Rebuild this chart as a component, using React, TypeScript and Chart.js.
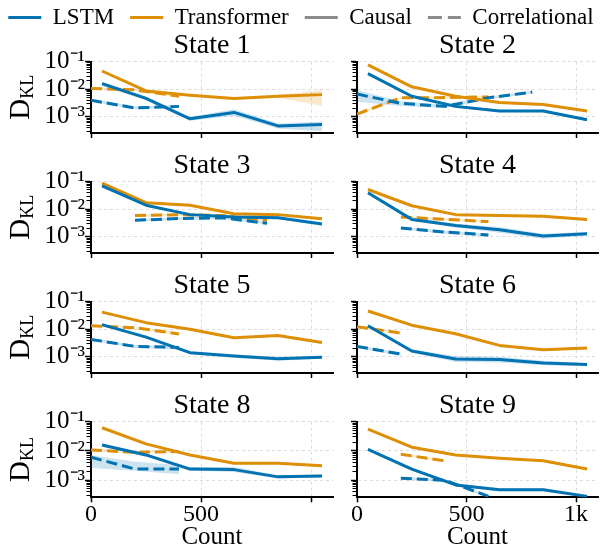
import React, { useEffect, useRef } from 'react';
import { Chart, registerables } from 'chart.js';

Chart.register(...registerables);

const FONT = "'Liberation Serif', 'Times New Roman', serif";
const BLUE = '#0173B2';
const ORANGE = '#DE8F05';
const BLUE_BAND = 'rgba(1,115,178,0.2)';
const ORANGE_BAND = 'rgba(222,143,5,0.2)';

const stateTitles = ['State 1', 'State 2', 'State 3', 'State 4', 'State 5', 'State 6', 'State 8', 'State 9'];
const counts = [50, 250, 450, 650, 850, 1050];

const lstmCausal = [
  [0.016, 0.0047, 0.00085, 0.00145, 0.00047, 0.00053],
  [0.037, 0.0056, 0.0024, 0.00164, 0.00164, 0.00079],
  [0.071, 0.0141, 0.0064, 0.0053, 0.0049, 0.0029],
  [0.04, 0.0043, 0.0026, 0.0018, 0.00107, 0.0013],
  [0.0148, 0.0052, 0.00142, 0.00107, 0.00085, 0.00096],
  [0.0134, 0.00164, 0.00083, 0.0008, 0.0006, 0.00053],
  [0.016, 0.0073, 0.0024, 0.0023, 0.0013, 0.00139],
  [0.0114, 0.0024, 0.00069, 0.00047, 0.00047, 0.00028],
];
const lstmCausalLo = [
  [0.013, 0.004, 0.00072, 0.0011, 0.00038, 0.0003],
  [0.033, 0.005, 0.0021, 0.0015, 0.0015, 0.0007],
  [0.064, 0.0128, 0.0058, 0.0048, 0.0044, 0.0026],
  [0.036, 0.0038, 0.0022, 0.0014, 0.00085, 0.0011],
  [0.013, 0.0047, 0.00125, 0.00092, 0.00072, 0.00085],
  [0.012, 0.0014, 0.00065, 0.00063, 0.0005, 0.00046],
  [0.014, 0.0065, 0.0021, 0.0019, 0.00115, 0.00125],
  [0.0103, 0.0021, 0.00062, 0.00042, 0.00042, 0.00025],
];
const lstmCausalHi = [
  [0.019, 0.0055, 0.001, 0.0019, 0.00058, 0.00068],
  [0.042, 0.0062, 0.0027, 0.0018, 0.0018, 0.0009],
  [0.078, 0.0155, 0.007, 0.0058, 0.0054, 0.0032],
  [0.044, 0.0049, 0.003, 0.0023, 0.0013, 0.0015],
  [0.0165, 0.0058, 0.0016, 0.00122, 0.00098, 0.00108],
  [0.015, 0.0019, 0.00105, 0.001, 0.00072, 0.0006],
  [0.018, 0.0082, 0.0028, 0.0028, 0.00148, 0.00155],
  [0.0125, 0.0027, 0.00077, 0.00053, 0.00053, 0.00032],
];

const transCausal = [
  [0.046, 0.0087, 0.0061, 0.0046, 0.0056, 0.0064],
  [0.077, 0.0123, 0.0056, 0.0033, 0.0028, 0.00164],
  [0.088, 0.0173, 0.0141, 0.0069, 0.0064, 0.0045],
  [0.052, 0.0134, 0.0064, 0.0059, 0.0056, 0.0043],
  [0.042, 0.0174, 0.01, 0.0049, 0.0059, 0.0033],
  [0.046, 0.0141, 0.0069, 0.0026, 0.0018, 0.0021],
  [0.062, 0.0174, 0.0073, 0.0038, 0.0038, 0.0031],
  [0.056, 0.0134, 0.0073, 0.0056, 0.0046, 0.0024],
];
const transCausalLo = [
  [0.042, 0.008, 0.0056, 0.0042, 0.005, 0.0025],
  [0.071, 0.0113, 0.0052, 0.003, 0.0026, 0.0015],
  [0.081, 0.0159, 0.013, 0.0063, 0.0059, 0.0041],
  [0.048, 0.0123, 0.0059, 0.0054, 0.0051, 0.0039],
  [0.039, 0.016, 0.0092, 0.0045, 0.0054, 0.003],
  [0.042, 0.013, 0.0063, 0.0024, 0.0016, 0.0019],
  [0.057, 0.016, 0.0067, 0.0035, 0.0035, 0.0028],
  [0.052, 0.0123, 0.0067, 0.0051, 0.0042, 0.0022],
];
const transCausalHi = [
  [0.05, 0.0095, 0.0066, 0.005, 0.0062, 0.0095],
  [0.083, 0.0133, 0.0061, 0.0036, 0.003, 0.0018],
  [0.095, 0.0187, 0.0152, 0.0075, 0.0069, 0.0049],
  [0.056, 0.0145, 0.0069, 0.0064, 0.0061, 0.0047],
  [0.045, 0.0188, 0.0108, 0.0053, 0.0064, 0.0036],
  [0.05, 0.0152, 0.0075, 0.0028, 0.002, 0.0023],
  [0.067, 0.0188, 0.0079, 0.0041, 0.0041, 0.0034],
  [0.06, 0.0145, 0.0079, 0.0061, 0.005, 0.0026],
];

const lstmCorrCounts = [
  [0, 200, 400],
  [0, 200, 400, 600, 800],
  [200, 400, 600, 800],
  [200, 400, 600],
  [0, 200, 400],
  [0, 200],
  [0, 200, 400],
  [200, 400, 600],
];
const lstmCorr = [
  [0.004, 0.0021, 0.0024],
  [0.0067, 0.0031, 0.0024, 0.0049, 0.0079],
  [0.004, 0.0046, 0.0049, 0.0031],
  [0.0021, 0.0015, 0.00117],
  [0.0043, 0.0024, 0.0022],
  [0.0024, 0.00126],
  [0.0061, 0.0024, 0.0024],
  [0.00117, 0.001, 0.00028],
];
const lstmCorrLo = [
  [0.0036, 0.0019, 0.0021],
  [0.0035, 0.0025, 0.0021, 0.0043, 0.007],
  [0.0036, 0.0041, 0.0044, 0.0028],
  [0.0019, 0.0013, 0.001],
  [0.0038, 0.0021, 0.0019],
  [0.0021, 0.0011],
  [0.0026, 0.0021, 0.0016],
  [0.00105, 0.0009, 0.00025],
];
const lstmCorrHi = [
  [0.0045, 0.0024, 0.0027],
  [0.0095, 0.0037, 0.0028, 0.0055, 0.0088],
  [0.0044, 0.0051, 0.0054, 0.0035],
  [0.0023, 0.0017, 0.0013],
  [0.0048, 0.0027, 0.0025],
  [0.0027, 0.0014],
  [0.0073, 0.0043, 0.0033],
  [0.0013, 0.0011, 0.00032],
];

const transCorrCounts = [
  [0, 200, 400],
  [0, 200, 400, 600],
  [200, 400, 600, 800],
  [200, 400, 600],
  [0, 200, 400],
  [0, 200],
  [0, 200, 400],
  [200, 400],
];
const transCorr = [
  [0.0107, 0.0095, 0.0056],
  [0.00126, 0.0049, 0.005, 0.0053],
  [0.0059, 0.0064, 0.0059, 0.004],
  [0.0053, 0.0043, 0.0036],
  [0.0134, 0.0114, 0.0068],
  [0.0123, 0.0073],
  [0.0108, 0.009, 0.0095],
  [0.0077, 0.0046],
];
const transCorrLo = [
  [0.0098, 0.0086, 0.005],
  [0.00115, 0.0045, 0.0046, 0.0048],
  [0.0053, 0.0058, 0.0053, 0.0035],
  [0.0048, 0.0039, 0.0032],
  [0.0122, 0.0103, 0.0061],
  [0.0112, 0.0062],
  [0.0098, 0.0081, 0.0085],
  [0.007, 0.0041],
];
const transCorrHi = [
  [0.0117, 0.0104, 0.0062],
  [0.0014, 0.0054, 0.0055, 0.0058],
  [0.0066, 0.0071, 0.0066, 0.0045],
  [0.0058, 0.0048, 0.004],
  [0.0147, 0.0126, 0.0076],
  [0.0135, 0.0085],
  [0.0119, 0.01, 0.0106],
  [0.0085, 0.0051],
];

const yMajorValues = [0.1, 0.01, 0.001];
const yMajorLabels = ['10⁻¹', '10⁻²', '10⁻³'];
const xTickValues = [0, 500, 1000];
const xTickLabelsLeft = ['0', '500', ''];
const xTickLabelsRight = ['0', '500', '1k'];
const legendLabels = ['LSTM', 'Transformer', 'Causal', 'Correlational'];
const legendColors = [BLUE, ORANGE, '#8c8c8c', '#8c8c8c'];
const legendDashes: number[][] = [[], [], [], [14, 6]];

const CORR_DASH = [11, 5];

function isPow10(v: number) {
  const l = Math.log10(v);
  return Math.abs(l - Math.round(l)) < 1e-6;
}

function majorLabel(v: number) {
  for (let i = 0; i < yMajorValues.length; i++) {
    if (Math.abs(v - yMajorValues[i]) / yMajorValues[i] < 1e-6) return yMajorLabels[i];
  }
  return '';
}

const yTitlePlugin = {
  id: 'yTitleDKL',
  afterDraw(chart: any) {
    const { ctx, chartArea } = chart;
    const cy = (chartArea.top + chartArea.bottom) / 2;
    ctx.save();
    ctx.translate(29, cy);
    ctx.rotate(-Math.PI / 2);
    ctx.fillStyle = '#000';
    ctx.textBaseline = 'alphabetic';
    ctx.textAlign = 'left';
    ctx.font = `29px ${FONT}`;
    const wD = ctx.measureText('D').width;
    ctx.font = `18px ${FONT}`;
    const wK = ctx.measureText('KL').width;
    const x0 = -(wD + wK) / 2;
    ctx.font = `29px ${FONT}`;
    ctx.fillText('D', x0, 0);
    ctx.font = `18px ${FONT}`;
    ctx.fillText('KL', x0 + wD, 4);
    ctx.restore();
  },
};

function pts(xs: number[], ys: number[]) {
  return xs.map((x, i) => ({ x, y: ys[i] }));
}

function Panel({ idx }: { idx: number }) {
  const ref = useRef<HTMLCanvasElement | null>(null);
  const row = Math.floor(idx / 2);
  const col = idx % 2;
  const isBottom = row === 3;
  const isLeft = col === 0;
  const W = isLeft ? 340 : 262;
  const H = isBottom ? 160 : 118;
  const left = isLeft ? 0 : 340;
  const top = 30 + 120 * row;

  useEffect(() => {
    const xAxisH = H - 31.7 - 75.6;
    const datasets: any[] = [];
    const addBand = (xs: number[], lo: number[], hi: number[], color: string) => {
      datasets.push({
        data: pts(xs, hi), borderColor: 'transparent', borderWidth: 0, pointRadius: 0,
        backgroundColor: color, fill: '+1',
      });
      datasets.push({
        data: pts(xs, lo), borderColor: 'transparent', borderWidth: 0, pointRadius: 0,
        backgroundColor: color, fill: false,
      });
    };
    const addLine = (xs: number[], ys: number[], color: string, dash: number[]) => {
      datasets.push({
        data: pts(xs, ys), borderColor: color, borderWidth: 3, pointRadius: 0,
        borderDash: dash, fill: false, tension: 0, borderJoinStyle: 'round', borderCapStyle: 'butt',
      });
    };
    addLine(counts, lstmCausal[idx], BLUE, []);
    addLine(counts, transCausal[idx], ORANGE, []);
    addLine(lstmCorrCounts[idx], lstmCorr[idx], BLUE, CORR_DASH);
    addLine(transCorrCounts[idx], transCorr[idx], ORANGE, CORR_DASH);
    addBand(counts, lstmCausalLo[idx], lstmCausalHi[idx], BLUE_BAND);
    addBand(counts, transCausalLo[idx], transCausalHi[idx], ORANGE_BAND);
    addBand(lstmCorrCounts[idx], lstmCorrLo[idx], lstmCorrHi[idx], BLUE_BAND);
    addBand(transCorrCounts[idx], transCorrLo[idx], transCorrHi[idx], ORANGE_BAND);

    const xLabels = isLeft ? xTickLabelsLeft : xTickLabelsRight;

    const chart = new Chart(ref.current as HTMLCanvasElement, {
      type: 'line',
      data: { datasets },
      plugins: isLeft ? [yTitlePlugin] : [],
      options: {
        animation: false,
        responsive: false,
        devicePixelRatio: 1,
        events: [],
        layout: { padding: { left: 0, top: 0, bottom: 0, right: isLeft ? 7 : 4 } },
        plugins: {
          legend: { display: false },
          tooltip: { enabled: false },
          filler: { drawTime: 'beforeDatasetsDraw' },
          title: {
            display: true,
            text: stateTitles[idx],
            fullSize: false,
            color: '#000',
            font: { family: FONT, size: 28, weight: 'normal', lineHeight: 1.132 },
            padding: { top: 0, bottom: 0 },
          },
        },
        scales: {
          x: {
            type: 'linear',
            min: 0,
            max: 1100,
            afterFit: (s: any) => { s.height = xAxisH; },
            afterBuildTicks: (s: any) => {
              s.ticks = xTickValues.map((v) => ({ value: v }));
            },
            ticks: {
              autoSkip: false,
              maxRotation: 0,
              padding: 0,
              color: '#000',
              font: { family: FONT, size: 24, lineHeight: 1 },
              callback: (v: any) => {
                if (!isBottom) return '';
                const i = xTickValues.indexOf(Number(v));
                return i >= 0 ? xLabels[i] : '';
              },
            },
            grid: {
              color: (c: any) => (c.tick && (c.tick.value === 500 || c.tick.value === 1000) ? '#d8d8d8' : 'transparent'),
              lineWidth: 0.9,
              tickColor: '#000',
              tickWidth: 1.5,
              tickLength: 5,
              drawTicks: true,
            },
            border: { display: true, color: '#000', width: 2, dash: [3, 3] },
            title: {
              display: isBottom,
              text: 'Count',
              color: '#000',
              font: { family: FONT, size: 25, lineHeight: 1 },
              padding: { top: 0, bottom: 0 },
            },
          },
          y: {
            type: 'logarithmic',
            min: 2.6e-4,
            max: 0.1,
            afterFit: (s: any) => { s.width = isLeft ? 91 : 17; },
            afterBuildTicks: (s: any) => {
              s.ticks = s.ticks.filter((t: any) => {
                const e = Math.floor(Math.log10(t.value) + 1e-9);
                const m = t.value / Math.pow(10, e);
                return Math.abs(m - Math.round(m)) < 1e-6;
              });
            },
            ticks: {
              autoSkip: false,
              padding: 0,
              color: '#000',
              font: { family: FONT, size: 25, lineHeight: 1.2 },
              callback: (v: any) => (isLeft ? majorLabel(Number(v)) : ''),
            },
            grid: {
              color: (c: any) => (c.tick && isPow10(c.tick.value) ? '#d8d8d8' : 'transparent'),
              lineWidth: 0.9,
              tickColor: '#000',
              tickWidth: (c: any) => (c.tick && isPow10(c.tick.value) ? 1.5 : 1),
              tickLength: 6,
              tickBorderDash: (c: any) => (c.tick && isPow10(c.tick.value) ? [] : [4, 100]),
              tickBorderDashOffset: (c: any) => (c.tick && isPow10(c.tick.value) ? 0 : -1.5),
              drawTicks: true,
            },
            border: { display: true, color: '#000', width: 2, dash: [3, 3] },
          },
        },
      } as any,
    });
    return () => chart.destroy();
  }, [idx]);

  return (
    <canvas
      ref={ref}
      width={W}
      height={H}
      style={{ position: 'absolute', left, top, width: W, height: H }}
    />
  );
}

function LegendBar() {
  const ref = useRef<HTMLCanvasElement | null>(null);
  useEffect(() => {
    const chart = new Chart(ref.current as HTMLCanvasElement, {
      type: 'line',
      data: {
        datasets: legendLabels.map((label, i) => ({
          label,
          data: [],
          borderColor: legendColors[i],
          backgroundColor: legendColors[i],
          borderWidth: 3,
          borderDash: legendDashes[i],
        })),
      },
      options: {
        animation: false,
        responsive: false,
        devicePixelRatio: 1,
        events: [],
        layout: { padding: 0 },
        scales: { x: { display: false }, y: { display: false } },
        plugins: {
          tooltip: { enabled: false },
          legend: {
            display: true,
            position: 'top',
            maxHeight: 100,
            labels: {
              usePointStyle: true,
              pointStyle: 'line',
              pointStyleWidth: 33,
              padding: 16,
              color: '#000',
              font: { family: FONT, size: 23 },
              generateLabels: () =>
                legendLabels.map((text, i) => ({
                  text,
                  fillStyle: legendColors[i],
                  strokeStyle: legendColors[i],
                  lineWidth: 3,
                  lineDash: legendDashes[i],
                  lineCap: 'butt',
                  pointStyle: 'line',
                  hidden: false,
                  datasetIndex: i,
                  fontColor: '#000',
                })),
            },
          },
        },
      } as any,
    });
    return () => chart.destroy();
  }, []);
  return (
    <canvas
      ref={ref}
      width={640}
      height={140}
      style={{ position: 'absolute', left: -19, top: -10, width: 640, height: 140 }}
    />
  );
}

export default function App() {
  return (
    <div
      style={{
        position: 'absolute', left: 0, top: 0, width: 602, height: 550,
        overflow: 'hidden', background: '#fff',
      }}
    >
      <LegendBar />
      {stateTitles.map((_, i) => (
        <Panel key={i} idx={i} />
      ))}
    </div>
  );
}
